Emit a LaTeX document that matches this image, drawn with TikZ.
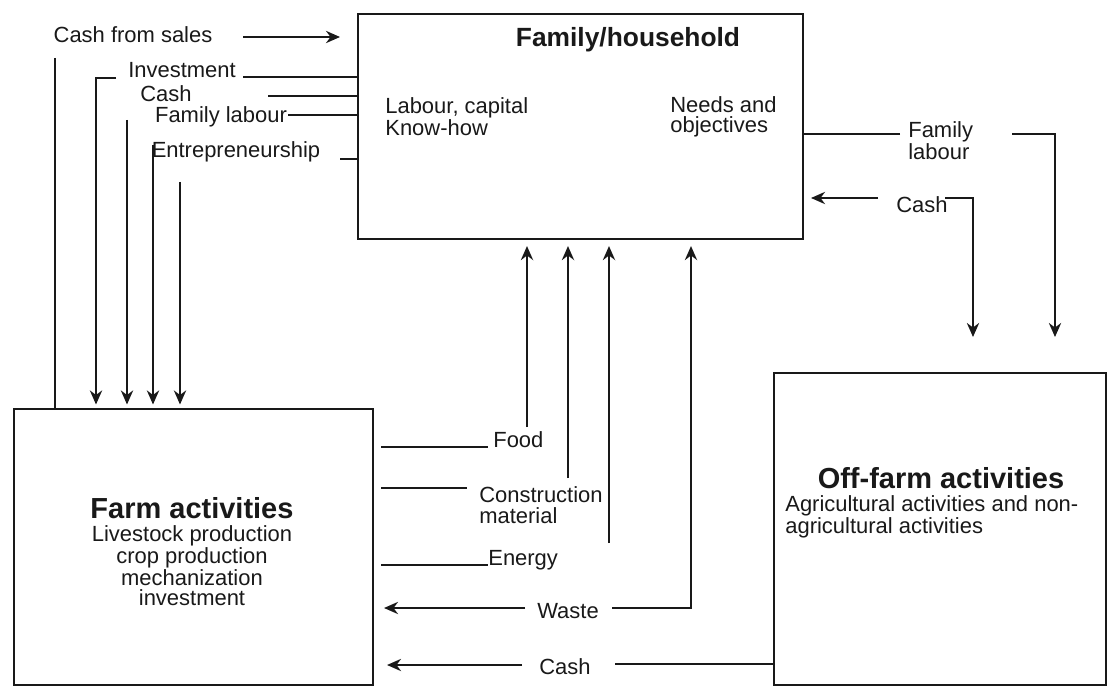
\documentclass[tikz,border=0pt]{standalone}
\usepackage{fontspec}
\setmainfont{Liberation Sans}
\usepackage{tikz}
\usetikzlibrary{arrows.meta, positioning, calc}
\definecolor{mydark}{RGB}{25,25,25}
\tikzset{
  box/.style={rectangle, draw=mydark, line width=1.2pt, inner sep=0pt, anchor=north west},
  boxtitle/.style={font=\fontsize{16.5}{18}\selectfont\bfseries, text=mydark, inner sep=0pt},
  lbl/.style={font=\fontsize{12.5}{11.6}\selectfont, text=mydark, inner sep=0pt},
  arrow/.style={-{Stealth[length=8pt,width=7pt]}, line width=1pt, color=mydark},
  line/.style={line width=1pt, color=mydark}
}

\begin{document}
\begin{tikzpicture}[x=0.02cm, y=-0.02cm]
  \useasboundingbox (0,0) rectangle (1110,686);

  % Boxes
  \node[box, minimum width=8.9cm, minimum height=4.5cm] (fh) at (357,13) {};
  \node[box, minimum width=7.18cm, minimum height=5.52cm] (farm) at (13,408) {};
  \node[box, minimum width=6.64cm, minimum height=6.24cm] (off) at (773,372) {};

  % Box texts
  \node[boxtitle, font=\fontsize{15}{17}\selectfont\bfseries] (fhtitle) at (628,40) {Family/household};
  \node[lbl, anchor=west, align=left] (fhres) at (385,117) {Labour, capital\\Know-how};
  \node[lbl, anchor=west, align=left] (fhneeds) at (670,117) {Needs and\\objectives};
  \node[boxtitle] (farmtitle) at (192,508) {Farm activities};
  \node[lbl, font=\fontsize{12.5}{11}\selectfont, anchor=north, align=center] (farmtext) at (192,525) {Livestock production\\crop production\\mechanization\\investment};
  \node[boxtitle] (offtitle) at (941,478) {Off-farm activities};
  \node[lbl, anchor=north west, align=left] (offtext) at (785,495) {Agricultural activities and non-\\agricultural activities};

  % Left flows
  \node[lbl] (lsales) at (133,35) {Cash from sales};
  \coordinate (sales1) at (243,37);
  \coordinate (sales2) at (55,58);
  \draw[arrow, shorten >=0.34cm] (sales1) -- (sales1 -| fh.west);
  \draw[line] (sales2) -- (sales2 |- farm.north);

  \node[lbl] (linv) at (182,70) {Investment};
  \coordinate (inv1) at (243,77);
  \coordinate (inv2) at (116,78);
  \coordinate (inv3) at (96,78);
  \draw[line] (inv1) -- (inv1 -| fh.west);
  \draw[arrow, shorten >=2pt] (inv2) -- (inv3) -- (inv3 |- farm.north);

  \node[lbl] (lcash) at (166,94) {Cash};
  \coordinate (cash1) at (268,96);
  \coordinate (cash2) at (127,120);
  \draw[line] (cash1) -- (cash1 -| fh.west);
  \draw[arrow, shorten >=2pt] (cash2) -- (cash2 |- farm.north);

  \node[lbl] (lfam) at (221,117) {Family labour};
  \coordinate (fam1) at (288,115);
  \coordinate (fam2) at (153,145);
  \draw[line] (fam1) -- (fam1 -| fh.west);
  \draw[arrow, shorten >=2pt] (fam2) -- (fam2 |- farm.north);

  \node[lbl] (lent) at (236,152) {Entrepreneurship};
  \coordinate (ent1) at (340,159);
  \coordinate (ent2) at (180,182);
  \draw[line] (ent1) -- (ent1 -| fh.west);
  \draw[arrow, shorten >=2pt] (ent2) -- (ent2 |- farm.north);

  % Right flows
  \node[lbl, anchor=west, align=left] (rfam) at (908,141) {Family\\labour};
  \coordinate (rfam1) at (900,134);
  \coordinate (rfam2) at (1012,134);
  \coordinate (rfam3) at (1055,134);
  \draw[line] (rfam1) -- (rfam1 -| fh.east);
  \draw[arrow, shorten >=0.7cm] (rfam2) -- (rfam3) -- (rfam3 |- off.north);

  \node[lbl] (rcash) at (922,205) {Cash};
  \coordinate (rcash1) at (878,198);
  \coordinate (rcash2) at (945,198);
  \coordinate (rcash3) at (973,198);
  \draw[arrow, shorten >=0.14cm] (rcash1) -- (rcash1 -| fh.east);
  \draw[arrow, shorten >=0.7cm] (rcash2) -- (rcash3) -- (rcash3 |- off.north);

  % Middle flows
  \node[lbl, anchor=west] (mfood) at (493,440) {Food};
  \coordinate (food1) at (488,447);
  \coordinate (food2) at (527,427);
  \draw[line, shorten <=0.14cm] (food1 -| farm.east) -- (food1);
  \draw[arrow, shorten >=0.12cm] (food2) -- (food2 |- fh.south);

  \node[lbl, anchor=west, align=left] (mcons) at (479,505) {Construction\\material};
  \coordinate (cons1) at (467,488);
  \coordinate (cons2) at (568,478);
  \draw[line, shorten <=0.14cm] (cons1 -| farm.east) -- (cons1);
  \draw[arrow, shorten >=0.12cm] (cons2) -- (cons2 |- fh.south);

  \node[lbl, anchor=west] (menergy) at (488,560) {Energy};
  \coordinate (en1) at (488,565);
  \coordinate (en2) at (609,543);
  \draw[line, shorten <=0.14cm] (en1 -| farm.east) -- (en1);
  \draw[arrow, shorten >=0.12cm] (en2) -- (en2 |- fh.south);

  \node[lbl] (mwaste) at (568,611) {Waste};
  \coordinate (waste1) at (525,608);
  \coordinate (waste2) at (612,608);
  \coordinate (waste3) at (691,608);
  \draw[arrow, shorten >=0.2cm] (waste1) -- (waste1 -| farm.east);
  \draw[arrow, shorten >=0.12cm] (waste2) -- (waste3) -- (waste3 |- fh.south);

  \node[lbl] (mcash) at (565,667) {Cash};
  \coordinate (mcash1) at (522,665);
  \coordinate (mcash2) at (615,664);
  \draw[arrow, shorten >=0.26cm] (mcash1) -- (mcash1 -| farm.east);
  \draw[line] (mcash2) -- (mcash2 -| off.west);
\end{tikzpicture}
\end{document}
